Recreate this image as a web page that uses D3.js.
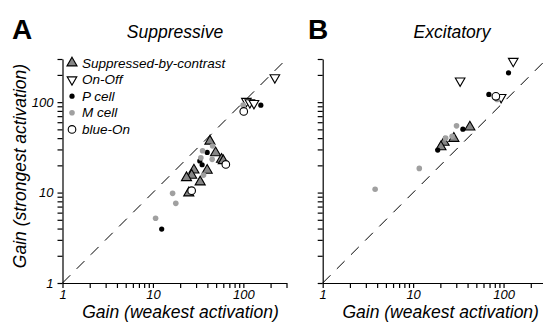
<!DOCTYPE html>
<html>
<head>
<meta charset="utf-8">
<script src="https://cdn.jsdelivr.net/npm/d3@7"></script>
<style>
body { margin: 0; background: #fff; }
svg { display: block; font-family: "Liberation Sans", Arial, Helvetica, sans-serif; }
.axis path, .axis line { stroke: #000; stroke-width: 1.2; }
.axis text { font-size: 13px; font-style: italic; fill: #000; }
</style>
</head>
<body>
<svg width="543" height="322"></svg>
<script>
// categories, in legend order
var categories = ["Suppressed-by-contrast", "On-Off", "P cell", "M cell", "blue-On"];
var tickValues = [1,2,3,4,5,6,7,8,9,10,20,30,40,50,60,70,80,90,100,200,300];
var tickLabels = [1, 10, 100];

// panel A : suppressive  [weakest, strongest]
var supSbc = [[42.7,37],[49.3,27.5],[57.4,23.3],[60,22.5],[28.4,17.7],[39.8,17.6],[26.8,15.5],[23.5,14.6],[33.3,13.1],[24.9,9.9]];
var supOnOff = [[223,187],[108,102.6],[118,99],[131,97]];
var supP = [[39.8,27.8],[33,22.4],[35,20.3],[12.5,3.95],[156,92.6]];
var supM = [[35.4,29],[45.7,32.7],[33.9,24.2],[45.2,23.3],[36.3,15.6],[16.5,9.8],[17.9,7.6],[10.7,5.2],[99.5,92.6]];
var supBlue = [[64,20.5],[26.8,10.5],[101,79]];

// panel B : excitatory
var excSbc = [[42.4,53],[28.2,39.7],[22,35.9],[20.3,32]];
var excOnOff = [[128,284],[33.1,172],[94,113]];
var excP = [[113.5,211],[68.8,121.6],[35.5,50.3],[18.7,29.5]];
var excM = [[85,107],[30.2,54.7],[27,42],[22.9,40],[11.7,18.5],[3.8,10.9]];
var excBlue = [[82.2,116]];

var svg = d3.select("svg");
var size = 224;
var top0 = 59;

function drawMarker(sel, cat) {
	if (cat == 0) {
		sel.append("path").attr("d", d3.symbol(d3.symbolTriangle, 44)())
			.attr("fill", "#858585").attr("stroke", "#000").attr("stroke-width", 1.1);
	} else if (cat == 1) {
		sel.append("path").attr("d", d3.symbol(d3.symbolTriangle, 40)())
			.attr("transform", "rotate(180)")
			.attr("fill", "#fff").attr("stroke", "#000").attr("stroke-width", 1.1);
	} else if (cat == 2) {
		sel.append("circle").attr("r", 2.6).attr("fill", "#000");
	} else if (cat == 3) {
		sel.append("circle").attr("r", 2.8).attr("fill", "#a0a0a0");
	} else {
		sel.append("circle").attr("r", 3.8).attr("fill", "#fff").attr("stroke", "#000").attr("stroke-width", 1.1);
	}
}

function panel(left, letter, letterX, title, titleX, series, showYLabels) {
	var x = d3.scaleLog().domain([1, 300]).range([left, left + size]);
	var y = d3.scaleLog().domain([1, 300]).range([top0 + size, top0]);
	var fmt = function(d) { return tickLabels.indexOf(d) >= 0 ? d : ""; };

	// unity line
	svg.append("line")
		.attr("x1", x(1)).attr("y1", y(1)).attr("x2", x(300)).attr("y2", y(300))
		.attr("stroke", "#000").attr("stroke-width", 1).attr("stroke-dasharray", "11,9");

	var gx = svg.append("g").attr("class", "axis")
		.attr("transform", "translate(0," + y(1) + ")")
		.call(d3.axisBottom(x).tickValues(tickValues).tickFormat(fmt).tickSize(5).tickSizeOuter(0).tickPadding(2));
	gx.selectAll("text").filter(function() { return this.textContent == ""; }).remove();

	var gy = svg.append("g").attr("class", "axis")
		.attr("transform", "translate(" + x(1) + ",0)")
		.call(d3.axisLeft(y).tickValues(tickValues).tickFormat(showYLabels ? fmt : "").tickSize(5).tickSizeOuter(0).tickPadding(4));
	gy.selectAll("text").filter(function() { return this.textContent == ""; }).remove();

	series.forEach(function(pts, cat) {
		pts.forEach(function(p) {
			var g = svg.append("g").attr("transform", "translate(" + x(p[0]) + "," + y(p[1]) + ")");
			drawMarker(g, cat);
		});
	});

	svg.append("text").attr("x", letterX).attr("y", 39)
		.attr("font-size", 28).attr("font-weight", "bold").text(letter);
	svg.append("text").attr("x", titleX).attr("y", 38).attr("text-anchor", "middle")
		.attr("font-size", 17.5).attr("font-style", "italic").text(title);
	svg.append("text").attr("x", x(1) + size / 2 + 6).attr("y", 317.5).attr("text-anchor", "middle")
		.attr("font-size", 17.5).attr("font-style", "italic").text("Gain (weakest activation)");
}

panel(62.5, "A", 12, "Suppressive", 175, [supSbc, supOnOff, supP, supM, supBlue], true);
panel(322.7, "B", 308, "Excitatory", 452, [excSbc, excOnOff, excP, excM, excBlue], false);

svg.append("text")
	.attr("transform", "translate(26,166) rotate(-90)")
	.attr("text-anchor", "middle").attr("font-size", 17.5).attr("font-style", "italic")
	.text("Gain (strongest activation)");

// legend
var legend = svg.append("g").attr("transform", "translate(72,63)");
categories.forEach(function(c, i) {
	var row = legend.append("g").attr("transform", "translate(0," + (i * 16.6) + ")");
	drawMarker(row, i);
	row.append("text").attr("x", 10).attr("y", 4.5)
		.attr("font-size", 13.5).attr("font-style", "italic").text(c);
});
</script>
</body>
</html>
